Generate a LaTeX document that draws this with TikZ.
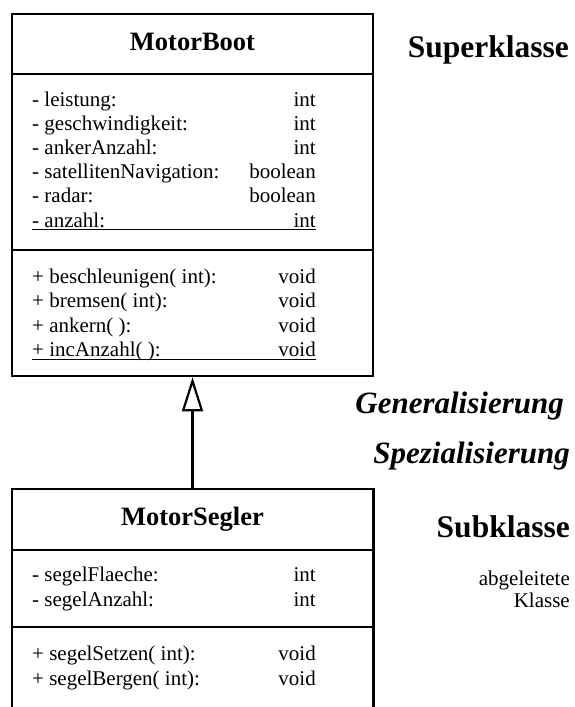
\documentclass[tikz,border=0pt]{standalone}
\usepackage{fontspec}
\setmainfont{Liberation Serif}
\usetikzlibrary{arrows.meta}
\begin{document}
\begin{tikzpicture}[x=1pt,y=-1pt,
  classbox/.style={draw, line width=2.6pt, minimum width=361pt, inner sep=0pt},
  member/.style={inner sep=0pt, font=\fontsize{21}{24}\selectfont},
  mname/.style={member, anchor=base west},
  mtype/.style={member, anchor=base east},
  ctitle/.style={inner sep=0pt, anchor=base, font=\fontsize{26.5}{30}\selectfont\bfseries},
  sidehead/.style={inner sep=0pt, anchor=base east, font=\fontsize{31.5}{36}\selectfont\bfseries},
  sideital/.style={inner sep=0pt, anchor=base east, font=\fontsize{31}{36}\selectfont\bfseries\itshape},
  sidenote/.style={inner sep=0pt, anchor=base east, font=\fontsize{21}{22}\selectfont},
  sepline/.style={line width=2.6pt},
  uline/.style={line width=1.3pt}]
\useasboundingbox (0,0) rectangle (575,707);

% ---- superclass MotorBoot ----
\node[classbox, minimum height=362pt] (mb) at (192.5,195) {};
\draw[sepline] (12,74) -- (373,74);
\draw[sepline] (12,250) -- (373,250);
\node[ctitle] (mbtitle) at (192.5,50) {MotorBoot};

\node[mname] (a1) at (32,106.0) {- leistung:};
\node[mtype] (t1) at (316,106.0) {int};
\node[mname] (a2) at (32,130.2) {- geschwindigkeit:};
\node[mtype] (t2) at (316,130.2) {int};
\node[mname] (a3) at (32,154.4) {- ankerAnzahl:};
\node[mtype] (t3) at (316,154.4) {int};
\node[mname] (a4) at (32,178.6) {- satellitenNavigation:};
\node[mtype] (t4) at (316,178.6) {boolean};
\node[mname] (a5) at (32,202.8) {- radar:};
\node[mtype] (t5) at (316,202.8) {boolean};
\node[mname] (a6) at (32,227.0) {- anzahl:};
\node[mtype] (t6) at (316,227.0) {int};
\draw[uline] (32,229.8) -- (316,229.8);

\node[mname] (o1) at (32,283.0) {+ beschleunigen( int):};
\node[mtype] (r1) at (316,283.0) {void};
\node[mname] (o2) at (32,307.6) {+ bremsen( int):};
\node[mtype] (r2) at (316,307.6) {void};
\node[mname] (o3) at (32,332.2) {+ ankern( ):};
\node[mtype] (r3) at (316,332.2) {void};
\node[mname] (o4) at (32,356.8) {+ incAnzahl( ):};
\node[mtype] (r4) at (316,356.8) {void};
\draw[uline] (32,359.6) -- (316,359.6);

% ---- subclass MotorSegler (open at the bottom) ----
\node[inner sep=0pt, minimum width=361pt, minimum height=218pt] (ms) at (192.5,598) {};
\draw[sepline, line join=miter] (ms.south west) -- (ms.north west) -- (ms.north east) -- (ms.south east);
\draw[sepline] (12,550) -- (373,550);
\draw[sepline] (12,627) -- (373,627);
\node[ctitle] (mstitle) at (192.5,525) {MotorSegler};

\node[mname] (b1) at (32,581.7) {- segelFlaeche:};
\node[mtype] (u1) at (316,581.7) {int};
\node[mname] (b2) at (32,606.0) {- segelAnzahl:};
\node[mtype] (u2) at (316,606.0) {int};
\node[mname] (p1) at (32,660.7) {+ segelSetzen( int):};
\node[mtype] (v1) at (316,660.7) {void};
\node[mname] (p2) at (32,685.0) {+ segelBergen( int):};
\node[mtype] (v2) at (316,685.0) {void};

% ---- generalisation arrow ----
\draw[line width=2.6pt, -{Triangle[open, length=34pt, width=21pt, line width=2.2pt]}]
  (ms.north) -- (mb.south);

% ---- side labels ----
\node[sidehead] (sup) at (569,57) {Superklasse};
\node[sideital] (gen) at (564,413) {Generalisierung};
\node[sideital] (spez) at (570,463) {Spezialisierung};
\node[sidehead] (sub) at (570,537) {Subklasse};
\node[sidenote] (abg) at (570,585) {abgeleitete};
\node[sidenote] (kla) at (570,607) {Klasse};
\end{tikzpicture}
\end{document}
